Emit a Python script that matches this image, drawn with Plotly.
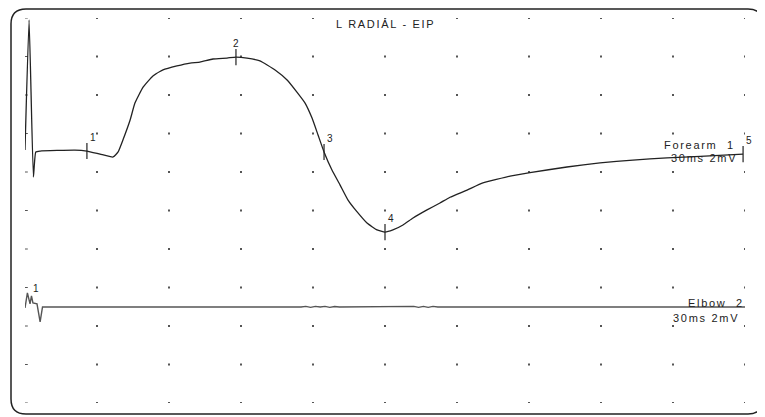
import plotly.graph_objects as go

# ---------------- data ----------------
# time axis: ms (30 ms / division), amplitude axis: mV (2 mV / division)
forearm_t = [0.0, 1.7, 3.5, 4.5, 6.3, 20.8, 25.8, 31.3, 36.7, 38.8, 40.8, 43.8, 45.8, 49.2,
             53.3, 57.5, 63.3, 68.8, 72.9, 78.3, 84.2, 87.9, 92.5, 97.9, 104.2, 109.2,
             113.3, 116.7, 119.6, 122.1, 124.6, 127.9, 131.3, 134.6, 138.3, 142.5, 146.7,
             150.0, 153.3, 157.5, 161.7, 167.5, 172.9, 177.1, 184.2, 190.8, 202.1, 210.4,
             225.8, 239.6, 253.3, 267.5, 281.3, 299.2]
forearm_v = [0.05, 6.81, -1.35, -0.05, 0.0, 0.05, 0.0, -0.16, -0.31, -0.05, 0.57, 1.61, 2.49,
             3.32, 3.90, 4.21, 4.42, 4.57, 4.62, 4.78, 4.83, 4.88, 4.83, 4.68, 4.21, 3.69,
             3.06, 2.49, 1.71, 0.83, -0.05, -0.99, -1.77, -2.55, -3.15, -3.74, -4.10,
             -4.21, -4.10, -3.84, -3.48, -3.06, -2.70, -2.40, -2.03, -1.66, -1.30, -1.12,
             -0.83, -0.62, -0.47, -0.36, -0.28, -0.16]
forearm_base = 13.09

elbow_t = [0.0, 1.0, 2.1, 2.7, 3.3, 5.0, 6.3, 7.3, 115.0, 117.0, 119.0, 121.0, 123.0,
           125.0, 127.0, 129.0, 131.0, 160.0, 162.0, 164.0, 166.0, 168.0, 170.0, 172.0, 300.0]
elbow_v = [-0.05, 0.73, 0.16, 0.57, 0.21, 0.16, -0.78, 0.0, 0.0, 0.03, -0.02, 0.03, 0.0,
           0.03, -0.02, 0.02, 0.0, 0.0, 0.03, -0.02, 0.03, -0.02, 0.03, 0.0, 0.0]
elbow_base = 4.99

marker_labels = ["1", "2", "3", "4", "5"]
marker_t = [25.8, 87.9, 124.6, 150.0, 299.2]
marker_v = [0.0, 4.88, -0.05, -4.21, -0.16]

grid_x = [0, 30, 60, 90, 120, 150, 180, 210, 240, 270, 300]
grid_y = [0, 2, 4, 6, 8, 10, 12, 14, 16, 18, 20]

title_text = "L RADIÁL - EIP"
forearm_label = "Forearm\u00a0\u00a01"
elbow_label = "Elbow\u00a0\u00a02"
scale_label = "30ms 2mV"

# ---------------- figure ----------------
# the page body has an 8px margin, so the figure is placed at (8, 8) in the window
OFF = 8
WIN_W, WIN_H = 765, 417
W, H = WIN_W - OFF, WIN_H - OFF
ML, MT = 25 - OFF, 18 - OFF
PW, PH = 720, 385
MR, MB = W - ML - PW, H - MT - PH

fig = go.Figure()

# grid dots (first column drawn as small dashes)
gx_dash, gy_dash, gx_dot, gy_dot = [], [], [], []
for gx in grid_x:
    for gy in grid_y:
        if gx == grid_x[0]:
            gx_dash.append(gx); gy_dash.append(gy)
        else:
            gx_dot.append(gx); gy_dot.append(gy)
fig.add_trace(go.Scatter(x=gx_dot, y=gy_dot, mode="markers", hoverinfo="skip",
                         marker=dict(symbol="square", size=2, color="#555555", line=dict(width=0))))
fig.add_trace(go.Scatter(x=gx_dash, y=gy_dash, mode="markers", hoverinfo="skip",
                         marker=dict(symbol="line-ew", size=4, color="#555555",
                                     line=dict(width=1, color="#555555"))))

# traces
fig.add_trace(go.Scatter(x=forearm_t, y=[v + forearm_base for v in forearm_v], mode="lines",
                         line=dict(color="#222222", width=1.3, shape="spline", smoothing=0.4),
                         hoverinfo="skip"))
fig.add_trace(go.Scatter(x=elbow_t, y=[v + elbow_base for v in elbow_v], mode="lines",
                         line=dict(color="#555555", width=1.4), hoverinfo="skip"))

# marker ticks
num_font = dict(family="Liberation Sans, Arial", size=10, color="#222222")
tick_half = 0.42
for lab, t, v in zip(marker_labels, marker_t, marker_v):
    y0 = v + forearm_base
    fig.add_trace(go.Scatter(x=[t, t], y=[y0 - tick_half, y0 + tick_half], mode="lines",
                             line=dict(color="#222222", width=1.2), hoverinfo="skip"))
    fig.add_annotation(x=t, y=y0 + tick_half, text=lab, showarrow=False,
                       xanchor="left" if lab != "2" else "center", yanchor="bottom",
                       xshift=0 if lab == "2" else 1, yshift=-2,
                       font=num_font)

# elbow marker 1 label
fig.add_annotation(x=elbow_t[3], y=elbow_base + elbow_v[1], text="1", showarrow=False,
                   xanchor="left", yanchor="bottom", xshift=0, yshift=-3, font=num_font)

lbl_font = dict(family="Liberation Sans, Arial", size=11, color="#222222")
sp = '<span style="letter-spacing:1.7px">{}</span>'

fig.add_annotation(x=150, y=(403 - 24) / 19.25, text=sp.format(title_text), showarrow=False,
                   xanchor="center", yanchor="middle", font=lbl_font)
fig.add_annotation(x=296.5, y=13.40, text=sp.format(forearm_label), showarrow=False,
                   xanchor="right", yanchor="middle", font=lbl_font)
fig.add_annotation(x=297.5, y=12.73, text=sp.format(scale_label), showarrow=False,
                   xanchor="right", yanchor="middle", font=lbl_font)
fig.add_annotation(x=300.0, y=5.19, text=sp.format(elbow_label), showarrow=False,
                   xanchor="right", yanchor="middle", xshift=1, font=lbl_font)
fig.add_annotation(x=298.5, y=4.42, text=sp.format(scale_label), showarrow=False,
                   xanchor="right", yanchor="middle", font=lbl_font)

# rounded frame (window pixel coords -> paper coordinates)
def P(px, py):
    x = (px - 25) / PW
    y = (403 - py) / PH
    return f"{x:.5f},{y:.5f}"

L, R, T, B, r = 11, 763, 9, 414, 15
path = (f"M {P(L + r, T)} L {P(R - r, T)} Q {P(R, T)} {P(R, T + r)} "
        f"L {P(R, B - r)} Q {P(R, B)} {P(R - r, B)} "
        f"L {P(L + r, B)} Q {P(L, B)} {P(L, B - r)} "
        f"L {P(L, T + r)} Q {P(L, T)} {P(L + r, T)} Z")
fig.add_shape(type="path", path=path, xref="paper", yref="paper",
              line=dict(color="#222222", width=1.5), layer="above")

fig.update_layout(
    width=W, height=H, autosize=False,
    margin=dict(l=ML, r=MR, t=MT, b=MB, pad=0),
    paper_bgcolor="white", plot_bgcolor="white",
    showlegend=False,
    xaxis=dict(range=[0, 300], visible=False, fixedrange=True),
    yaxis=dict(range=[0, 20], visible=False, fixedrange=True),
)

fig.write_html("out.html", config={"displayModeBar": False})
